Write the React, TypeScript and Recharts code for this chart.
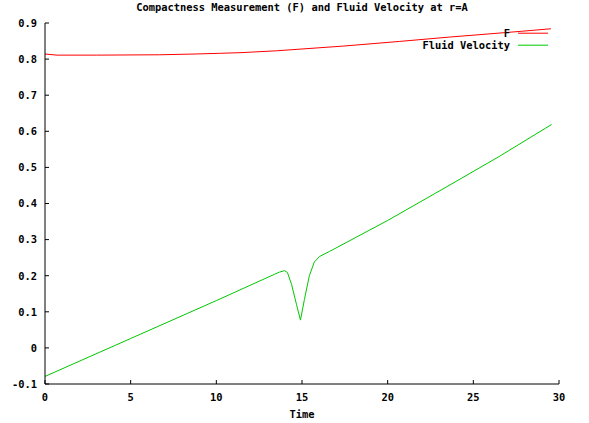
import React from 'react';
import { LineChart, Line, XAxis, YAxis, Legend } from 'recharts';

const fTime = [0, 0.7, 3, 6.7, 8.7, 10.2, 11.5, 13.5, 14.4, 17.4, 20.7, 23.6, 26.5, 27.8, 29.53];
const fValue = [0.814, 0.811, 0.811, 0.812, 0.814, 0.816, 0.818, 0.823, 0.826, 0.836, 0.849, 0.861, 0.872, 0.877, 0.884];

// Fluid velocity at r=A
const vTime = [0, 5, 10, 13.4, 13.69, 13.98, 14.15, 14.39, 14.68, 14.91, 15.14, 15.43, 15.72, 16.02, 16.6, 20, 23.4, 26.5, 29.57];
const vValue = [-0.079, 0.026, 0.131, 0.204, 0.21, 0.214, 0.209, 0.176, 0.12, 0.077, 0.134, 0.2, 0.238, 0.253, 0.267, 0.353, 0.445, 0.53, 0.619];

const xTicks = [0, 5, 10, 15, 20, 25, 30];
const yTicks = [-0.1, 0, 0.1, 0.2, 0.3, 0.4, 0.5, 0.6, 0.7, 0.8, 0.9];

const fData = fTime.map((t, i) => ({ time: t, value: fValue[i] }));
const vData = vTime.map((t, i) => ({ time: t, value: vValue[i] }));

const font: React.CSSProperties = {
  fontFamily: '"DejaVu Sans Mono", monospace',
  fontWeight: 'bold',
  fontSize: '10.4px',
};

const fmtY = (v: number) => (v === 0 ? '0' : v.toFixed(1));

const BottomTick = (props: any) => {
  const { x, y, payload } = props;
  return (
    <g>
      <line x1={x} x2={x} y1={y} y2={y - 4} stroke="#000" />
      <text x={x} y={y + 17} textAnchor="middle" fill="#000" style={font}>
        {payload.value}
      </text>
    </g>
  );
};

const TopTick = (props: any) => {
  const { x, y } = props;
  return <line x1={x} x2={x} y1={y} y2={y + 4} stroke="#000" />;
};

const LeftTick = (props: any) => {
  const { x, y, payload } = props;
  return (
    <g>
      <line x1={x} x2={x + 4} y1={y} y2={y} stroke="#000" />
      <text x={x - 8} y={y + 3.8} textAnchor="end" fill="#000" style={font}>
        {fmtY(payload.value)}
      </text>
    </g>
  );
};

const RightTick = (props: any) => {
  const { x, y } = props;
  return <line x1={x} x2={x - 4} y1={y} y2={y} stroke="#000" />;
};

const LegendBox = (props: any) => {
  const { payload } = props;
  return (
    <div style={{ ...font, color: '#000' }}>
      {(payload || []).map((item: any) => (
        <div key={item.value} style={{ display: 'flex', height: 12.4, lineHeight: '12.4px' }}>
          <span style={{ flex: 1, textAlign: 'right' }}>{item.value}</span>
          <svg width={38} height={12.4}>
            <line x1={8} x2={38} y1={6.2} y2={6.2} stroke={item.color} />
          </svg>
        </div>
      ))}
    </div>
  );
};

export default function App() {
  return (
    <div style={{ position: 'absolute', left: 0, top: 0, width: 589, height: 423, background: '#fff' }}>
      <div
        style={{
          ...font,
          position: 'absolute',
          top: 1,
          left: 0,
          width: 604,
          textAlign: 'center',
          lineHeight: '12px',
          color: '#000',
        }}
      >
        Compactness Measurement (F) and Fluid Velocity at r=A
      </div>
      <LineChart width={589} height={423} margin={{ top: 23, right: 30, bottom: 0, left: 0 }}>
        <XAxis
          dataKey="time"
          type="number"
          domain={[0, 30]}
          ticks={xTicks}
          interval={0}
          height={39}
          tickSize={0}
          tickMargin={0}
          stroke="#000"
          tick={<BottomTick />}
          label={{ value: 'Time', position: 'insideBottom', offset: 5, fill: '#000', style: font }}
        />
        <XAxis
          xAxisId="top"
          orientation="top"
          dataKey="time"
          type="number"
          domain={[0, 30]}
          ticks={xTicks}
          interval={0}
          height={0}
          tickSize={0}
          tickMargin={0}
          stroke="#000"
          tick={<TopTick />}
        />
        <YAxis
          type="number"
          domain={[-0.1, 0.9]}
          ticks={yTicks}
          interval={0}
          width={45}
          tickSize={0}
          tickMargin={0}
          stroke="#000"
          tick={<LeftTick />}
        />
        <YAxis
          yAxisId="right"
          orientation="right"
          type="number"
          domain={[-0.1, 0.9]}
          ticks={yTicks}
          interval={0}
          width={0}
          tickSize={0}
          tickMargin={0}
          stroke="#000"
          tick={<RightTick />}
        />
        <Legend
          layout="horizontal"
          verticalAlign="middle"
          align="center"
          content={<LegendBox />}
          wrapperStyle={{ top: 26.5, left: 380, width: 168, height: 25 }}
        />
        <Line
          data={fData}
          dataKey="value"
          name="F"
          type="linear"
          stroke="#ff0000"
          strokeWidth={1}
          dot={false}
          isAnimationActive={false}
        />
        <Line
          data={vData}
          dataKey="value"
          name="Fluid Velocity"
          type="linear"
          stroke="#00c800"
          strokeWidth={1}
          dot={false}
          isAnimationActive={false}
        />
      </LineChart>
    </div>
  );
}
